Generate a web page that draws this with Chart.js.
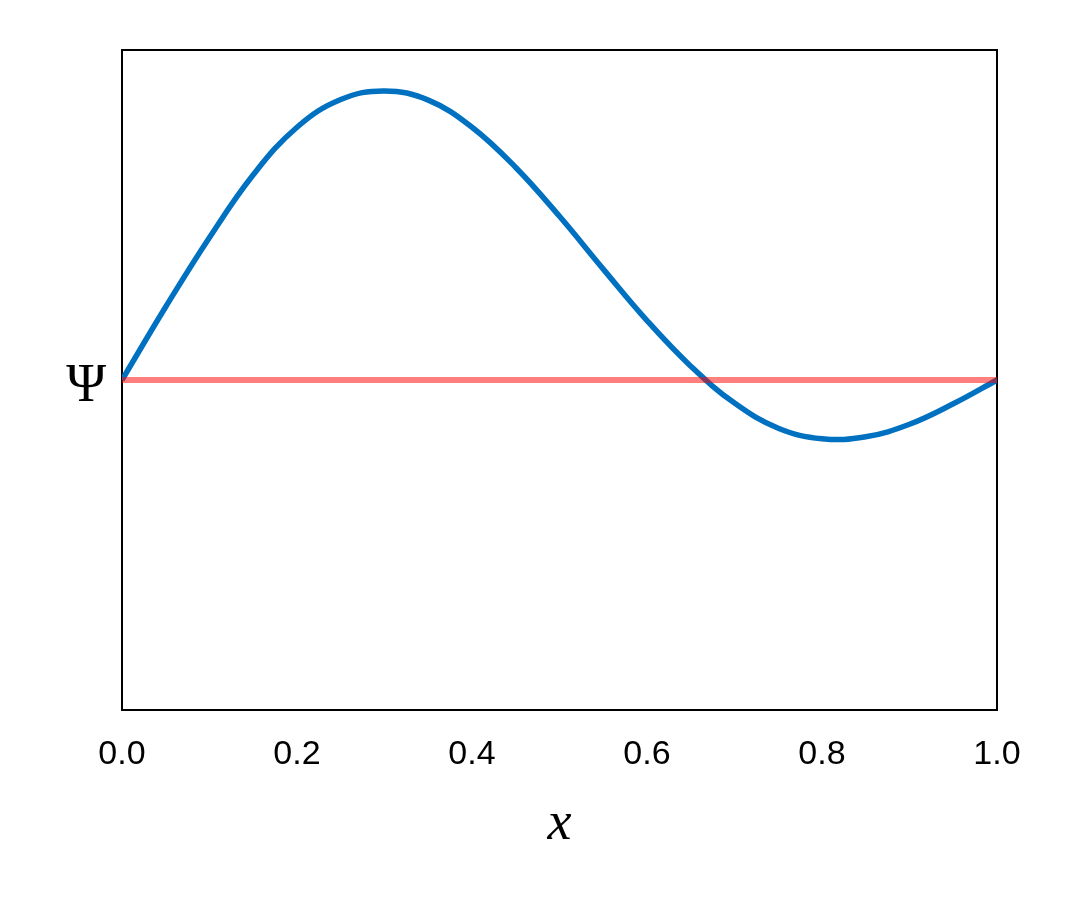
<!DOCTYPE html>
<html>
<head>
<meta charset="utf-8">
<script src="https://cdn.jsdelivr.net/npm/chart.js@4"></script>
<style>
  html, body { margin: 0; padding: 0; background: #fff; }
  #wrap { width: 1072px; height: 908px; }
</style>
</head>
<body>
<div id="wrap"><canvas id="psiChart"></canvas></div>
<script>
// positions along x
const xValues = [0, 0.05, 0.1, 0.15, 0.2, 0.25, 0.3, 0.35, 0.4, 0.45, 0.5,
                 0.55, 0.6, 0.65, 0.7, 0.75, 0.8, 0.85, 0.9, 0.95, 1.0];
// wave function values (blue curve)
const psiValues = [0, 0.222, 0.432, 0.622, 0.766, 0.850, 0.876, 0.848, 0.766, 0.644, 0.496,
                   0.336, 0.180, 0.042, -0.070, -0.146, -0.178, -0.172, -0.134, -0.072, 0];
// flat reference line (red)
const baseX = [0, 1];
const baseValues = [0, 0];
const xTicks = [0, 0.2, 0.4, 0.6, 0.8, 1.0];
const yLabel = 'Ψ';

// box around the plot area + the Ψ label next to the zero line
const frameBox = {
    id: 'frameBox',
    beforeDatasetsDraw(chart) {
        const a = chart.chartArea;
        const ctx = chart.ctx;
        ctx.save();
        ctx.strokeStyle = '#000';
        ctx.lineWidth = 2;
        ctx.strokeRect(a.left, a.top, a.right - a.left, a.bottom - a.top);
        // Ψ sits level with y = 0
        const y0 = chart.scales.y.getPixelForValue(0);
        ctx.fillStyle = '#000';
        ctx.font = '54px "Liberation Serif", "Times New Roman", serif';
        ctx.textAlign = 'right';
        ctx.textBaseline = 'alphabetic';
        ctx.fillText(yLabel, a.left - 16, y0 + 21);
        ctx.restore();
    }
};

new Chart(document.getElementById('psiChart'), {
    type: 'line',
    data: {
        datasets: [
            {
                label: 'base',
                data: baseX.map((x, i) => ({ x: x, y: baseValues[i] })),
                borderColor: 'rgba(255,0,0,0.5)',
                borderWidth: 6,
                pointRadius: 0,
                fill: false
            },
            {
                label: 'psi',
                data: xValues.map((x, i) => ({ x: x, y: psiValues[i] })),
                borderColor: '#0070C0',
                borderWidth: 5.5,
                pointRadius: 0,
                fill: false,
                tension: 0.4
            }
        ]
    },
    options: {
        responsive: true,
        maintainAspectRatio: false,
        animation: false,
        layout: { padding: { left: 0, right: 75, top: 50, bottom: 0 } },
        plugins: { legend: { display: false }, tooltip: { enabled: false } },
        scales: {
            x: {
                type: 'linear',
                min: 0,
                max: 1,
                grid: { display: false, drawTicks: false },
                border: { display: false },
                afterBuildTicks: s => { s.ticks = xTicks.map(v => ({ value: v })); },
                afterFit: s => { s.height = 198; },
                ticks: {
                    color: '#000',
                    padding: 24,
                    maxRotation: 0,
                    font: { family: 'Liberation Sans, Arial, sans-serif', size: 34 },
                    callback: v => v.toFixed(1)
                },
                title: {
                    display: true,
                    text: 'x',
                    color: '#000',
                    padding: { top: 0, bottom: 51 },
                    font: { family: 'Liberation Serif, Times New Roman, serif', size: 54, style: 'italic' }
                }
            },
            y: {
                type: 'linear',
                min: -1,
                max: 1,
                grid: { display: false, drawTicks: false },
                border: { display: false },
                afterFit: s => { s.width = 122; },
                ticks: { display: false }
            }
        }
    },
    plugins: [frameBox]
});
</script>
</body>
</html>
